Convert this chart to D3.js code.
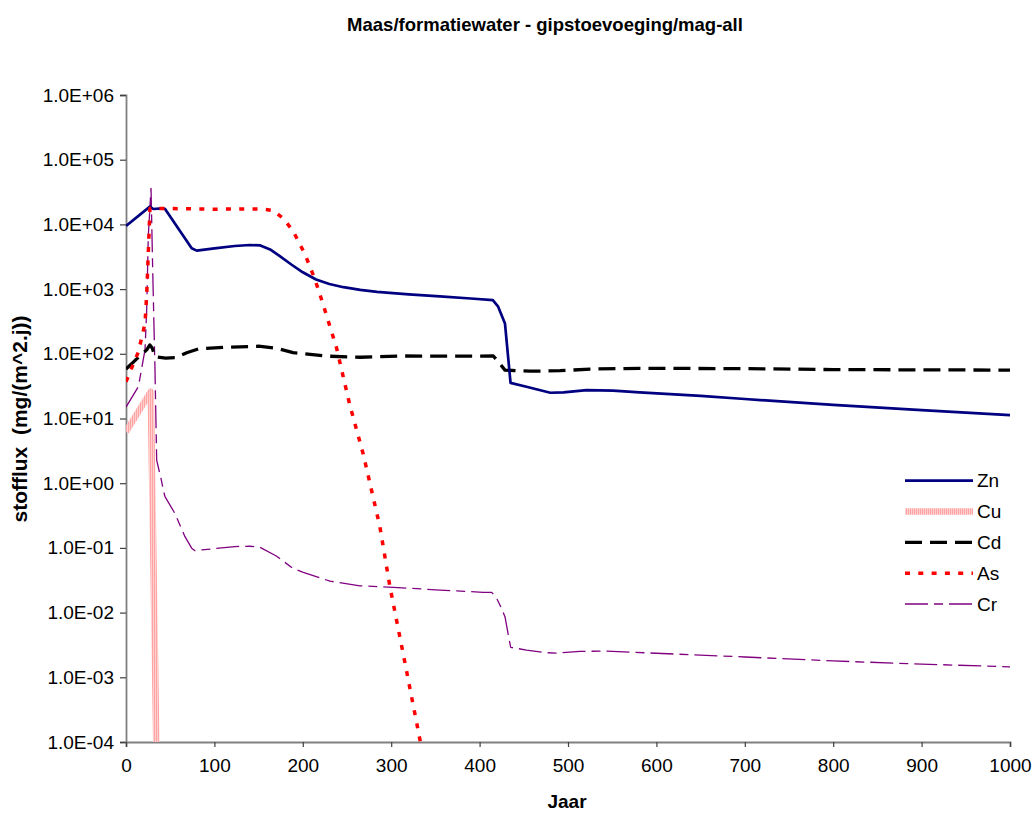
<!DOCTYPE html>
<html>
<head>
<meta charset="utf-8">
<script src="https://cdn.jsdelivr.net/npm/d3@7"></script>
<style>
  html, body { margin: 0; padding: 0; background: #fff; }
  svg text { font-family: "Liberation Sans", Arial, sans-serif; }
</style>
</head>
<body>
<svg id="chart" width="1036" height="814"></svg>
<script>
// ---- data ----
const xTicks = [0, 100, 200, 300, 400, 500, 600, 700, 800, 900, 1000];
const yTicks = [1e-4, 1e-3, 1e-2, 1e-1, 1e0, 1e1, 1e2, 1e3, 1e4, 1e5, 1e6];
const yTickLabels = ["1.0E-04", "1.0E-03", "1.0E-02", "1.0E-01", "1.0E+00", "1.0E+01",
                     "1.0E+02", "1.0E+03", "1.0E+04", "1.0E+05", "1.0E+06"];

const znYears  = [0, 27, 30.9, 40.4, 44, 74.3, 80, 100, 123, 140, 152, 163, 174, 187, 200, 215, 230, 246, 265, 284, 320, 355, 390, 415, 421, 428.7, 435, 453, 480, 495, 521, 551, 581, 650, 700, 800, 900, 1000];
const znValues = [9440, 18800, 17300, 17700, 17400, 4270, 3930, 4250, 4640, 4800, 4730, 4100, 3240, 2400, 1820, 1410, 1200, 1070, 970, 908, 830, 770, 715, 676, 535, 295, 35.5, 31, 25, 25.3, 27.5, 27, 25.3, 22.3, 20, 16.2, 13.5, 11.3];

const cuYears  = [0, 28, 36];
const cuValues = [6.25, 26, 3e-6];

const cdYears  = [0, 14, 23.4, 27, 29.8, 32.8, 45, 55.4, 68.7, 81.8, 112, 150, 170, 189, 227, 265, 310, 355, 415.5, 421, 428.7, 457, 491, 525, 581, 700, 800, 1000];
const cdValues = [58, 88, 115, 137, 122, 90, 86, 87, 104, 119, 126, 131, 122, 104, 92, 88.5, 92.5, 92, 92.5, 75.5, 56, 53.8, 54.8, 58, 59.7, 59, 57, 56];

const asYears  = [0, 14, 21.5, 23.4, 25.2, 27.1, 60, 100, 150, 160, 167, 178, 189, 202.5, 213.8, 223, 238, 253, 268.4, 287, 298.6, 313.7, 332.6, 345];
const asValues = [37, 107, 295, 811, 3570, 17700, 17500, 17200, 17300, 16900, 16300, 12300, 7900, 3450, 1410, 580, 126, 16.5, 2.8, 0.22, 0.025, 0.00226, 1.07e-4, 1e-5];

const crYears  = [0, 14, 21.5, 23.4, 25.2, 28.3, 30.2, 32.8, 34.7, 40.4, 42.2, 44.1, 55.4, 66.7, 74.3, 78, 85.6, 123.3, 140, 151.6, 170, 189, 200.6, 230.8, 264.7, 302.4, 355, 404, 413.7, 419.3, 423, 428.7, 432.5, 435.2, 453, 476, 487, 513.6, 543.8, 575.8, 700, 800, 900, 1000];
const crValues = [15, 31, 115, 475, 6460, 36100, 1970, 56, 2.28, 1.05, 0.785, 0.62, 0.34, 0.149, 0.099, 0.0906, 0.093, 0.105, 0.106, 0.102, 0.075, 0.048, 0.042, 0.0306, 0.0259, 0.0246, 0.0223, 0.0206, 0.0206, 0.0166, 0.0131, 0.00865, 0.0045, 0.0029, 0.00264, 0.0024, 0.00236, 0.00252, 0.00254, 0.00243, 0.00206, 0.00179, 0.0016, 0.00145];

const seriesNames = ["Zn", "Cu", "Cd", "As", "Cr"];

// ---- layout ----
const svg = d3.select("#chart");
const L = 126, R = 1010, T = 95, B = 742;
const x = d3.scaleLinear().domain([0, 1000]).range([L, R]);
const y = d3.scaleLog().domain([1e-4, 1e6]).range([B, T]);

const defs = svg.append("defs");
defs.append("clipPath").attr("id", "plotclip")
  .append("rect").attr("x", L).attr("y", T).attr("width", R - L).attr("height", B - T);
const pat = defs.append("pattern").attr("id", "cuStripe")
  .attr("patternUnits", "userSpaceOnUse").attr("width", 2).attr("height", 2);
pat.append("rect").attr("x", 0).attr("y", 0).attr("width", 2).attr("height", 2).attr("fill", "#FFD0D0");
pat.append("rect").attr("x", 0).attr("y", 0).attr("width", 1).attr("height", 2).attr("fill", "#FFA3A3");

const styles = {
  Zn: { stroke: "#000080", width: 2.7, dash: null },
  Cu: { stroke: "url(#cuStripe)", width: 6.5, dash: null },
  Cd: { stroke: "#000000", width: 3.3, dash: "17,8" },
  As: { stroke: "#FF0000", width: 3.5, dash: "5,8.3" },
  Cr: { stroke: "#800080", width: 1.3, dash: "23,6,9,6" }
};

// ---- axes ----
const yAxis = d3.axisLeft(y).tickValues(yTicks).tickFormat((d, i) => yTickLabels[i]).tickSize(6).tickPadding(6);
const gy = svg.append("g").attr("transform", `translate(${L},0)`).call(yAxis);
const xAxis = d3.axisBottom(x).tickValues(xTicks).tickFormat(d3.format("d")).tickSize(5).tickPadding(12);
const gx = svg.append("g").attr("transform", `translate(0,${B})`).call(xAxis);
[gx, gy].forEach(g => {
  g.select(".domain").attr("stroke", "#808080").attr("stroke-width", 1.8);
  g.selectAll(".tick line").attr("stroke", "#404040").attr("stroke-width", 1.2);
  g.selectAll(".tick text").attr("font-size", 19).attr("fill", "#000")
    .attr("font-family", "'Liberation Sans', Arial, sans-serif");
});

// ---- lines ----
const line = d3.line().x(d => x(d[0])).y(d => y(d[1]));
const data = {
  Zn: d3.zip(znYears, znValues),
  Cu: d3.zip(cuYears, cuValues),
  Cd: d3.zip(cdYears, cdValues),
  As: d3.zip(asYears, asValues),
  Cr: d3.zip(crYears, crValues)
};
const gl = svg.append("g").attr("clip-path", "url(#plotclip)");
["Cu", "Cr", "Cd", "Zn", "As"].forEach(k => {
  const s = styles[k];
  gl.append("path").datum(data[k]).attr("d", line)
    .attr("fill", "none").attr("stroke", s.stroke).attr("stroke-width", s.width)
    .attr("stroke-dasharray", s.dash).attr("stroke-linejoin", "round");
});

// ---- legend ----
const legY = d3.scalePoint().domain(seriesNames).range([480.7, 604]);
const lg = svg.append("g");
seriesNames.forEach(k => {
  const s = styles[k];
  const yy = legY(k);
  lg.append("line").attr("x1", 905).attr("x2", 973).attr("y1", yy).attr("y2", yy)
    .attr("stroke", s.stroke).attr("stroke-width", s.width).attr("stroke-dasharray", s.dash);
  lg.append("text").attr("x", 977).attr("y", yy).attr("dy", "0.35em")
    .attr("font-size", 19).text(k);
});

// ---- titles ----
svg.append("text").attr("x", 545).attr("y", 31).attr("text-anchor", "middle")
  .attr("font-size", 18.5).attr("font-weight", "bold").text("Maas/formatiewater - gipstoevoeging/mag-all");
svg.append("text").attr("x", 567).attr("y", 808).attr("text-anchor", "middle")
  .attr("font-size", 19).attr("font-weight", "bold").text("Jaar");
svg.append("text").attr("transform", "translate(27,419) rotate(-90)").attr("text-anchor", "middle")
  .attr("font-size", 21).attr("font-weight", "bold").style("white-space", "pre")
  .text("stofflux  (mg/(m^2.j))");
</script>
</body>
</html>
